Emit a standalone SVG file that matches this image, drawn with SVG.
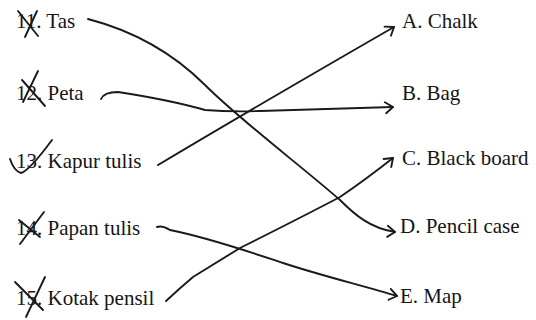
<svg xmlns="http://www.w3.org/2000/svg" width="536" height="320" viewBox="0 0 536 320">
<defs>
<marker id="ah" markerUnits="userSpaceOnUse" markerWidth="20" markerHeight="20" viewBox="-12 -10 16 20" refX="0" refY="0" orient="auto">
<path d="M-8,-5 L0,0 L-7,6" fill="none" stroke="#1a1a1a" stroke-width="1.9" stroke-linecap="round" stroke-linejoin="round"/>
</marker>
</defs>
<rect width="536" height="320" fill="#fff"/>
<g font-family="Liberation Serif, Times New Roman, serif" font-size="21" fill="#151515" stroke-linecap="round" stroke-linejoin="round">
<g id="n11"><text x="16" y="28">11. Tas</text><path fill="none" stroke="#1a1a1a" stroke-width="1.9" d="M18,11 L38,36 M37,11 L25,37"/></g>
<g id="n12"><text x="16" y="100">12. Peta</text><path fill="none" stroke="#1a1a1a" stroke-width="1.9" d="M38,71 L23,102 M22,80 L45,106"/></g>
<g id="n13"><text x="16" y="168">13. Kapur tulis</text><path fill="none" stroke="#1a1a1a" stroke-width="1.9" d="M10,159 Q14,171 21,173 Q29,171 52,140"/></g>
<g id="n14"><text x="16" y="235">14. Papan tulis</text><path fill="none" stroke="#1a1a1a" stroke-width="1.9" d="M44,212 L20,244 M19,220 L40,237"/></g>
<g id="n15"><text x="16" y="305">15. Kotak pensil</text><path fill="none" stroke="#1a1a1a" stroke-width="1.9" d="M45,277 L26,317 M15,282 L43,310"/></g>
<g id="nA"><text x="402" y="28">A. Chalk</text></g>
<g id="nB"><text x="402" y="100">B. Bag</text></g>
<g id="nC"><text x="402" y="165">C. Black board</text></g>
<g id="nD"><text x="400" y="233">D. Pencil case</text></g>
<g id="nE"><text x="400" y="303">E. Map</text></g>
</g>
<g id="connectors" fill="none" stroke="#1a1a1a" stroke-width="1.9" stroke-linecap="round" stroke-linejoin="round" marker-end="url(#ah)">
<path d="M88,19 C130,30 170,50 205,85 S300,165 340,200 C355,215 370,228 395,232"/>
<path d="M101,99 Q104,92 118,92 Q170,100 205,110 Q230,112 260,111 L393,107"/>
<path d="M158,165 Q250,110 394,27"/>
<path d="M157,227 Q162,225 170,230 C210,238 250,252 283,263 S360,285 397,296"/>
<path d="M166,301 Q180,288 193,277 L240,248 Q300,218 340,197 Q365,180 393,158"/>
</g>
</svg>
